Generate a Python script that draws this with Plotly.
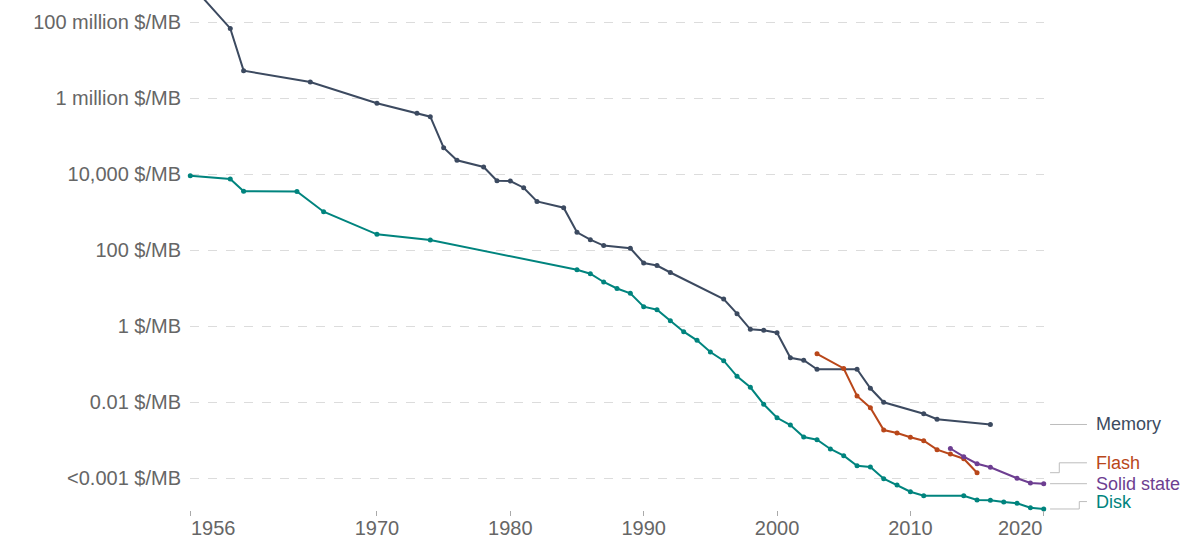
import math
import plotly.graph_objects as go

# ---------------- data ($ per MB) ----------------
memory_years = [1957, 1959, 1960, 1965, 1970, 1973, 1974, 1975, 1976, 1978, 1979, 1980,
                1981, 1982, 1984, 1985, 1986, 1987, 1989, 1990, 1991, 1992, 1996, 1997,
                1998, 1999, 2000, 2001, 2002, 2003, 2006, 2007, 2008, 2011, 2012, 2016]
memory_values = [4.11e8, 6.79e7, 5.24e6, 2.64e6, 7.26e5, 3.96e5, 3.22e5, 4.92e4, 2.30e4,
                 1.53e4, 6.67e3, 6.55e3, 4.36e3, 1.90e3, 1.30e3, 292, 187, 131, 111,
                 45.5, 39.1, 25.6, 5.14, 2.11, 0.819, 0.771, 0.667, 0.146, 0.126,
                 0.0726, 0.0726, 0.0230, 0.00982, 0.00492, 0.00351, 0.00256]

disk_years = [1956, 1959, 1960, 1964, 1966, 1970, 1974, 1985, 1986, 1987, 1988, 1989,
              1990, 1991, 1992, 1993, 1994, 1995, 1996, 1997, 1998, 1999, 2000, 2001,
              2002, 2003, 2004, 2005, 2006, 2007, 2008, 2009, 2010, 2011, 2014, 2015,
              2016, 2017, 2018, 2019, 2020]
disk_values = [9016, 7380, 3505, 3460, 1018, 259, 183, 30.3, 23.8, 14.4, 9.7, 7.26,
               3.22, 2.69, 1.38, 0.708, 0.420, 0.207, 0.122, 0.0475, 0.0244, 0.00869,
               0.00384, 0.00248, 0.00120, 0.00102, 0.00058, 0.000386, 0.000211, 0.000195,
               9.59e-5, 6.55e-5, 4.35e-5, 3.42e-5, 3.42e-5, 2.64e-5, 2.60e-5, 2.34e-5,
               2.16e-5, 1.65e-5, 1.53e-5]

flash_years = [2003, 2005, 2006, 2007, 2008, 2009, 2010, 2011, 2012, 2013, 2014, 2015]
flash_values = [0.185, 0.0762, 0.0144, 0.00708, 0.00183, 0.00153, 0.00118, 0.00096,
                0.000556, 0.000428, 0.000322, 0.000138]

ssd_years = [2013, 2014, 2015, 2016, 2018, 2019, 2020]
ssd_values = [0.000597, 0.000364, 0.000238, 0.000192, 9.88e-5, 7.39e-5, 7.08e-5]

series_names = ["Memory", "Flash", "Solid state", "Disk"]
series_colors = ["#3c4a60", "#b9471a", "#6d3e91", "#00847e"]

y_tick_values = [1e8, 1e6, 1e4, 100, 1, 0.01, 0.0001]
y_tick_labels = ["100 million $/MB", "1 million $/MB", "10,000 $/MB", "100 $/MB",
                 "1 $/MB", "0.01 $/MB", "<0.001 $/MB"]
x_tick_values = [1956, 1970, 1980, 1990, 2000, 2010, 2020]

# label vertical positions (log10 $/MB) for end labels, nudged to avoid overlap
label_log_pos = [math.log10(memory_values[-1]), -3.60, math.log10(ssd_values[-1]), -4.62]

# ---------------- figure ----------------
Y_MIN, Y_MAX = -4.842, 8.579
X_MIN, X_MAX = 1955.98, 2020.02

fig = go.Figure()
all_series = [(memory_years, memory_values), (flash_years, flash_values),
              (ssd_years, ssd_values), (disk_years, disk_values)]
for (xs, ys), name, col in zip(all_series, series_names, series_colors):
    fig.add_trace(go.Scatter(
        x=xs, y=ys, mode="lines+markers", name=name,
        line=dict(color=col, width=2),
        marker=dict(color=col, size=5),
        cliponaxis=False, showlegend=False,
    ))

def py(logv):
    return (logv - Y_MIN) / (Y_MAX - Y_MIN)

# end labels with connector lines
x_start, x_bend, x_end, x_text = 1.0071, 1.0179, 1.0503, 1.0598
disk_bend = 1.0413
ends = [memory_values[-1], flash_values[-1], ssd_values[-1], disk_values[-1]]
for i, (name, col) in enumerate(zip(series_names, series_colors)):
    y0 = py(math.log10(ends[i]))
    y1 = py(label_log_pos[i])
    xb = disk_bend if name == "Disk" else x_bend
    if abs(y0 - y1) < 1e-4:
        path = f"M {x_start},{y0} L {x_end},{y0}"
    else:
        path = f"M {x_start},{y0} L {xb},{y0} L {xb},{y1} L {x_end},{y1}"
    fig.add_shape(type="path", path=path, xref="paper", yref="paper",
                  line=dict(color="#bdbdbd", width=1))
    fig.add_annotation(x=x_text, y=y1, xref="paper", yref="paper", text=name,
                       showarrow=False, xanchor="left", yanchor="middle", borderpad=0,
                       font=dict(size=18, color=col, family="Liberation Sans, Arial"))

# edge x tick labels (left / right aligned)
for yr, anchor in ((1956, "left"), (2020, "right")):
    fig.add_annotation(x=yr, y=0, xref="x", yref="paper", text=str(yr), showarrow=False,
                       xanchor=anchor, yanchor="top", yshift=-6, borderpad=0,
                       font=dict(size=20, color="#666666", family="Liberation Sans, Arial"))

x_tick_text = ["" if v in (1956, 2020) else str(v) for v in x_tick_values]

fig.update_layout(
    width=1191, height=538,
    margin=dict(l=190, r=147, t=0, b=28),
    paper_bgcolor="white", plot_bgcolor="white",
    font=dict(family="Liberation Sans, Arial", color="#666666"),
    xaxis=dict(
        range=[X_MIN, X_MAX], tickvals=x_tick_values, ticktext=x_tick_text,
        showgrid=False, zeroline=False, showline=False, automargin=False,
        ticks="outside", ticklen=5, tickcolor="#aaaaaa", tickwidth=1,
        ticklabelstandoff=-5,
        tickfont=dict(size=20, color="#666666"),
    ),
    yaxis=dict(
        type="log", range=[Y_MIN, Y_MAX], automargin=False,
        tickvals=y_tick_values, ticktext=y_tick_labels,
        showgrid=True, gridcolor="#dcdcdc", griddash="dash", gridwidth=1,
        zeroline=False, showline=False, ticks="",
        ticklabelstandoff=8,
        tickfont=dict(size=20, color="#666666"),
    ),
)

fig.write_html("out.html", config={"displayModeBar": False},
               post_script="document.body.style.margin='0';document.body.style.overflow='hidden';")
